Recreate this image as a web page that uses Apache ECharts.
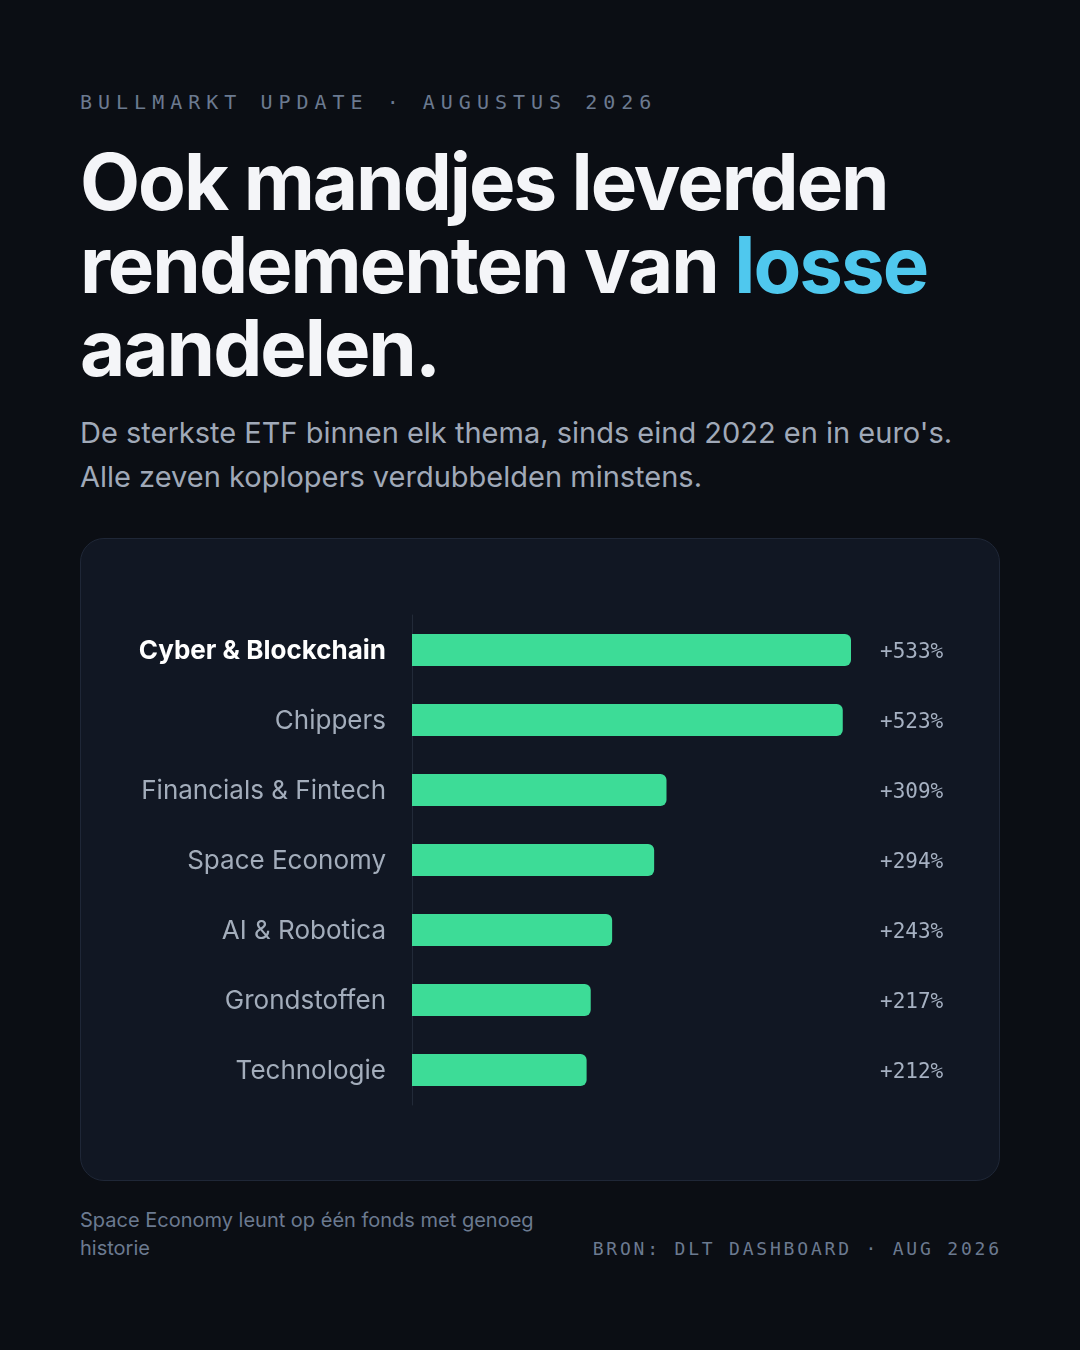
<!DOCTYPE html>
<html>
<head>
<meta charset="utf-8">
<script src="https://cdn.jsdelivr.net/npm/echarts@6/dist/echarts.min.js"></script>
<style>
  html, body { margin: 0; padding: 0; }
  body { width: 1080px; height: 1350px; background: #0b0e14; position: relative; overflow: hidden; font-family: Inter, "Noto Sans", sans-serif; }
  .kicker { position: absolute; left: 80px; top: 89px; font-family: "DejaVu Sans Mono", monospace; font-size: 20px; line-height: 26px; letter-spacing: 6px; color: #6b7a90; white-space: nowrap; }
  .title { position: absolute; left: 80px; top: 140px; width: 960px; font-size: 78px; line-height: 83px; font-weight: 700; letter-spacing: -2px; color: #f4f5f8; }
  .title .hl { color: #4fc8ee; }
  .sub { position: absolute; left: 80px; top: 411px; width: 960px; font-size: 29px; line-height: 44px; color: #a0a9b8; }
  .card { position: absolute; left: 80px; top: 538px; width: 918px; height: 641px; background: #111723; border: 1px solid #1f2737; border-radius: 24px; }
  #chart { position: absolute; left: 80px; top: 538px; width: 920px; height: 643px; }
  .note { position: absolute; left: 80px; top: 1206px; width: 480px; font-size: 20px; line-height: 28px; color: #6b7a90; }
  .src { position: absolute; right: 81px; top: 1237px; font-family: "DejaVu Sans Mono", monospace; font-size: 18px; line-height: 24px; letter-spacing: 2.8px; color: #6b7a90; white-space: nowrap; margin-right: -2.8px; }
</style>
</head>
<body>
<div class="kicker">BULLMARKT UPDATE · AUGUSTUS 2026</div>
<div class="title">Ook mandjes leverden rendementen van <span class="hl">losse</span> aandelen.</div>
<div class="sub">De sterkste ETF binnen elk thema, sinds eind 2022 en in euro's.<br>Alle zeven koplopers verdubbelden minstens.</div>
<div class="card"></div>
<div id="chart"></div>
<div class="note">Space Economy leunt op één fonds met genoeg historie</div>
<div class="src">BRON: DLT DASHBOARD · AUG 2026</div>
<script>
// thema's en rendement (%) sinds eind 2022
var themes = ['Cyber & Blockchain', 'Chippers', 'Financials & Fintech', 'Space Economy', 'AI & Robotica', 'Grondstoffen', 'Technologie'];
var returns = [533, 523, 309, 294, 243, 217, 212];
var returnLabels = ['+533%', '+523%', '+309%', '+294%', '+243%', '+217%', '+212%'];

var chart = echarts.init(document.getElementById('chart'), null, { renderer: 'canvas' });

chart.setOption({
    animation: false,
    grid: { left: 332, top: 77, width: 439, height: 490, containLabel: false },
    xAxis: {
        type: 'value',
        min: 0,
        max: 533,
        show: false
    },
    yAxis: [{
        type: 'category',
        data: themes,
        inverse: true,
        axisLine: { show: true, lineStyle: { color: '#222a38', width: 1 } },
        axisTick: { show: false },
        axisLabel: {
            margin: 26,
            padding: [3, 0, 0, 0],
            fontFamily: 'Inter',
            fontSize: 26,
            color: '#a3adbb',
            formatter: function (v, i) {
                return i === 0 ? '{top|' + v + '}' : v;
            },
            rich: {
                top: { fontFamily: 'Inter', fontSize: 26, fontWeight: 700, color: '#ffffff' }
            }
        }
    }, {
        type: 'category',
        data: returnLabels,
        inverse: true,
        position: 'right',
        axisLine: { show: false },
        axisTick: { show: false },
        axisLabel: {
            margin: 29,
            align: 'left',
            formatter: function (v) {
                return '{v|' + v + '}';
            },
            rich: {
                v: { fontFamily: 'DejaVu Sans Mono', fontSize: 21, color: '#a6b1c2', padding: [5, 0, 0, 0] }
            }
        }
    }],
    series: [{
        type: 'bar',
        data: returns,
        barWidth: 32,
        itemStyle: { color: '#3ddc97', borderRadius: [0, 6, 6, 0] },
        silent: true
    }]
});
</script>
</body>
</html>
